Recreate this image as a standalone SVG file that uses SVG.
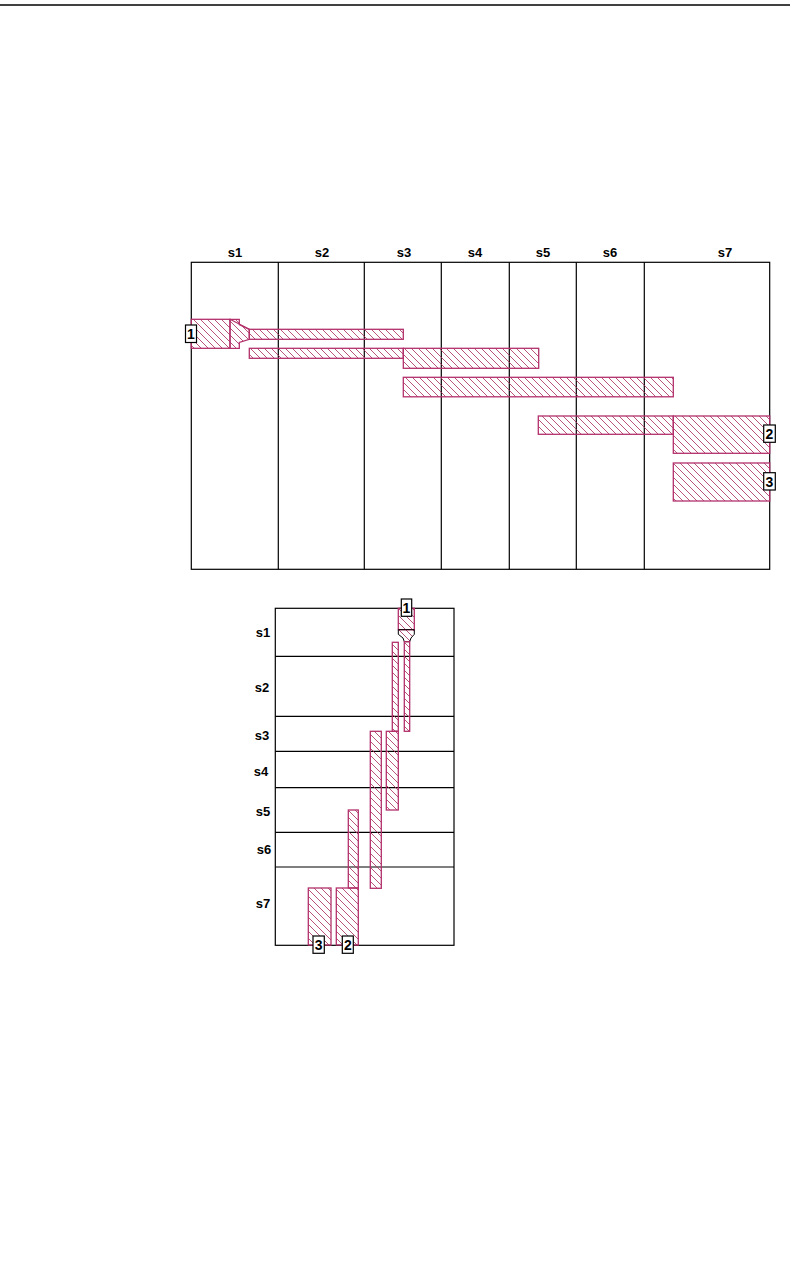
<svg xmlns="http://www.w3.org/2000/svg" width="793" height="1269" viewBox="0 0 793 1269">
<defs>
<pattern id="h" width="7" height="7" patternUnits="userSpaceOnUse">
<path d="M0,0 L7,7 M-1,6 L1,8 M6,-1 L8,1" stroke="#a8285c" stroke-width="0.8"/>
</pattern>
<style>
.bar{fill:url(#h);stroke:#b3306b;stroke-width:1.3}
.grid{fill:none;stroke:#000;stroke-width:1.2}
.lab{font-family:"Liberation Sans",Arial,sans-serif;font-size:13px;font-weight:bold;fill:#000}
.tag rect{fill:#fff;stroke:#000;stroke-width:1.2}
.tag text{font-family:"Liberation Sans",Arial,sans-serif;font-size:14px;font-weight:bold;fill:#000;text-anchor:middle}
</style>
</defs>
<rect width="793" height="1269" fill="#fff"/>
<line x1="0" y1="5" x2="790" y2="5" stroke="#000" stroke-width="1.3"/>

<g id="chart-horizontal">
<rect class="grid" x="191.3" y="262.3" width="578.4" height="307"/>
<g class="grid">
<line x1="278.3" y1="262.3" x2="278.3" y2="569.3"/>
<line x1="364.3" y1="262.3" x2="364.3" y2="569.3"/>
<line x1="441.3" y1="262.3" x2="441.3" y2="569.3"/>
<line x1="509.3" y1="262.3" x2="509.3" y2="569.3"/>
<line x1="576.3" y1="262.3" x2="576.3" y2="569.3"/>
<line x1="644.3" y1="262.3" x2="644.3" y2="569.3"/>
</g>
<g class="lab" text-anchor="middle">
<text x="235" y="257">s1</text>
<text x="322" y="257">s2</text>
<text x="404" y="257">s3</text>
<text x="475" y="257">s4</text>
<text x="543" y="257">s5</text>
<text x="610" y="257">s6</text>
<text x="725" y="257">s7</text>
</g>
<g id="h-bars">
<rect class="bar" x="191.3" y="319.3" width="38.7" height="29"/>
<polygon class="bar" points="230,319.3 239.3,319.3 239.3,324.5 249.3,329.3 249.3,339.3 239.3,342.5 239.3,348.3 230,348.3"/>
<line x1="230" y1="319.3" x2="249.3" y2="329.3" stroke="#b3306b" stroke-width="1.2"/>
<rect class="bar" x="249.3" y="329.3" width="154" height="10"/>
<rect class="bar" x="249.3" y="348.3" width="154" height="10"/>
<rect class="bar" x="403.3" y="348.3" width="135.4" height="20"/>
<rect class="bar" x="403.3" y="377.3" width="270" height="19.5"/>
<rect class="bar" x="538.3" y="416" width="135" height="18.3"/>
<rect class="bar" x="673.3" y="416" width="96.4" height="37.3"/>
<rect class="bar" x="673.3" y="463" width="96.4" height="38"/>
</g>
<g class="tag" id="h-tag1"><rect x="185.5" y="325" width="11" height="17.5"/><text x="191" y="339">1</text></g>
<g class="tag" id="h-tag2"><rect x="763.7" y="425" width="11.6" height="17.3"/><text x="769.5" y="439">2</text></g>
<g class="tag" id="h-tag3"><rect x="763.7" y="472.7" width="11.6" height="17.3"/><text x="769.5" y="486.5">3</text></g>
</g>

<g id="chart-vertical">
<rect class="grid" x="275.3" y="608.3" width="178.7" height="337"/>
<g class="grid">
<line x1="275.3" y1="656.3" x2="454" y2="656.3"/>
<line x1="275.3" y1="716.3" x2="454" y2="716.3"/>
<line x1="275.3" y1="751.3" x2="454" y2="751.3"/>
<line x1="275.3" y1="787.7" x2="454" y2="787.7"/>
<line x1="275.3" y1="832.3" x2="454" y2="832.3"/>
<line x1="275.3" y1="867" x2="454" y2="867"/>
</g>
<g class="lab" text-anchor="middle">
<text x="263" y="637">s1</text>
<text x="262" y="691.5">s2</text>
<text x="262" y="739.5">s3</text>
<text x="261" y="776">s4</text>
<text x="263" y="815.5">s5</text>
<text x="264" y="854">s6</text>
<text x="263" y="907.5">s7</text>
</g>
<g id="v-bars">
<rect class="bar" x="398.3" y="608.3" width="16" height="21.4"/>
<polygon points="398.3,629.7 414.3,629.7 414.3,634.3 411,638 409.7,641.7 404.3,641.7 403,638 398.3,634.3" fill="url(#h)" stroke="#000" stroke-width="1"/>
<rect class="bar" x="404.3" y="641.7" width="5.4" height="89.6"/>
<rect class="bar" x="392.3" y="642.3" width="6" height="89"/>
<rect class="bar" x="386.3" y="731.3" width="12" height="78.7"/>
<rect class="bar" x="370.3" y="731.3" width="11" height="157"/>
<rect class="bar" x="348.3" y="810" width="10" height="78"/>
<rect class="bar" x="336.3" y="888" width="22" height="57"/>
<rect class="bar" x="308.3" y="888" width="22.7" height="57"/>
</g>
<g class="tag" id="v-tag1"><rect x="401.3" y="599" width="10.4" height="17.3"/><text x="406.5" y="613">1</text></g>
<g class="tag" id="v-tag3"><rect x="313" y="936" width="11.3" height="17.3"/><text x="318.7" y="950">3</text></g>
<g class="tag" id="v-tag2"><rect x="342.3" y="936" width="11" height="17.3"/><text x="347.8" y="950">2</text></g>
</g>
</svg>
